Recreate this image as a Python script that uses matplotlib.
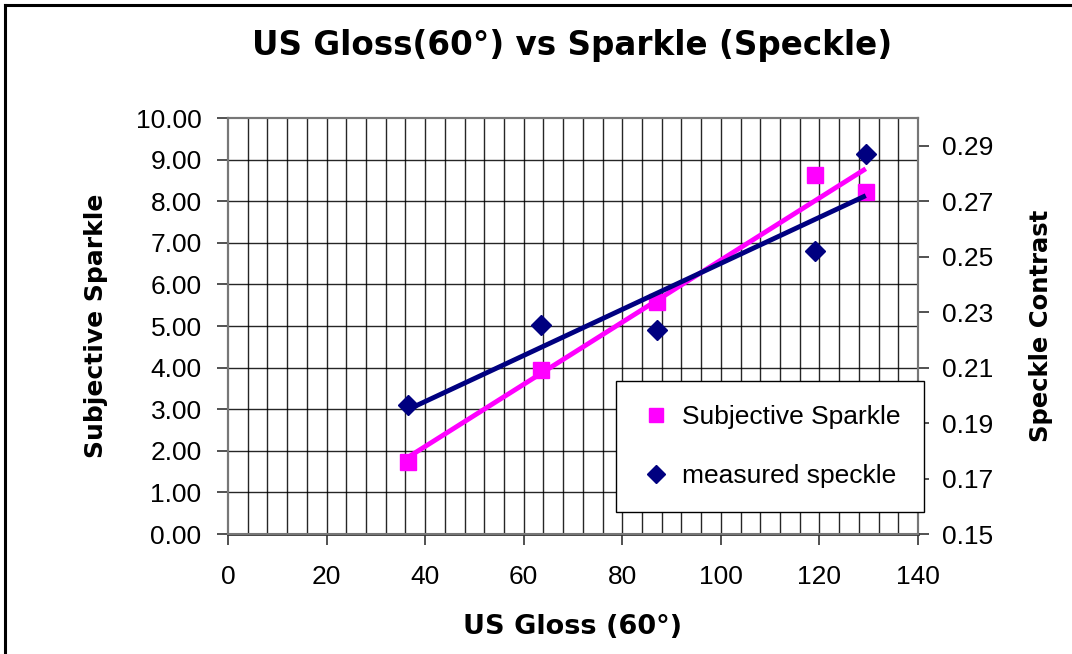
import numpy as np
import matplotlib
matplotlib.use("Agg")
import matplotlib.pyplot as plt
from matplotlib.lines import Line2D

# Data
gloss = [36.5, 63.5, 87.0, 119.0, 129.4]
subjective_sparkle = [1.73, 3.94, 5.58, 8.64, 8.21]
measured_speckle = [0.1965, 0.2253, 0.2235, 0.2521, 0.2869]

left_ticks = [0, 1, 2, 3, 4, 5, 6, 7, 8, 9, 10]
right_ticks = [0.15, 0.17, 0.19, 0.21, 0.23, 0.25, 0.27, 0.29]
x_ticks = [0, 20, 40, 60, 80, 100, 120, 140]

MAG = "#FF00FF"
NAVY = "#000080"
TICK_FONT = "Liberation Sans"
LABEL_FONT = "DejaVu Sans"

fig = plt.figure(figsize=(10.72, 6.54), dpi=100)
fig.patch.set_facecolor("white")

# Figure frame (top and left visible)
fig.add_artist(Line2D([5/1072, 1.0], [1 - 5/654, 1 - 5/654], transform=fig.transFigure,
                      color="black", lw=2.2))
fig.add_artist(Line2D([5/1072, 5/1072], [0.0, 1 - 5/654], transform=fig.transFigure,
                      color="black", lw=2.2))

ax = fig.add_axes([228/1072, 1 - 534/654, 690/1072, 416/654])
ax2 = ax.twinx()

ax.set_xlim(0, 140)
ax.set_ylim(0, 10)
ax2.set_ylim(0.15, 0.30)

# Grid: vertical every 4, horizontal at major
for xv in np.arange(4, 140, 4):
    ax.axvline(xv, color="#000000", lw=1.0, alpha=0.85, zorder=1)
for yv in left_ticks[1:-1]:
    ax.axhline(yv, color="#000000", lw=1.0, alpha=0.85, zorder=1)

ax.set_xticks(x_ticks)
ax.set_xticklabels([str(v) for v in x_ticks], fontsize=19, family=TICK_FONT)
ax.set_yticks(left_ticks)
ax.set_yticklabels([f"{v:.2f}" for v in left_ticks], fontsize=19, family=TICK_FONT)
ax2.set_yticks(right_ticks)
ax2.set_yticklabels([f"{v:.2f}" for v in right_ticks], fontsize=19, family=TICK_FONT)

ax.tick_params(axis="y", direction="out", length=8, width=1.2, color="#333333", pad=11)
ax.tick_params(axis="x", direction="out", length=8, width=1.2, color="#333333", pad=14)
ax2.tick_params(axis="y", direction="out", length=8, width=1.2, color="#333333", pad=9)

for a in (ax, ax2):
    for s in a.spines.values():
        s.set_color("#777777")
        s.set_linewidth(1.5)
ax.spines["bottom"].set_color("#333333")
ax.spines["bottom"].set_linewidth(2)
ax.spines["left"].set_color("#444444")

# Scatter markers
ax.plot(gloss, subjective_sparkle, ls="none", marker="s", ms=11, color=MAG,
        mec=MAG, zorder=4, label="Subjective Sparkle")
ax2.plot(gloss, measured_speckle, ls="none", marker="D", ms=10, color=NAVY,
         mec=NAVY, zorder=4, label="measured speckle")

# Linear trendlines
gx = np.array([min(gloss), max(gloss)])
p1 = np.polyfit(gloss, subjective_sparkle, 1)
p2 = np.polyfit(gloss, measured_speckle, 1)
ax.plot(gx, np.polyval(p1, gx), color=MAG, lw=3.5, zorder=5, solid_capstyle="butt")
ax2.plot(gx, np.polyval(p2, gx), color=NAVY, lw=3.5, zorder=5, solid_capstyle="butt")

# Labels
ax.set_xlabel("US Gloss (60°)", fontsize=19.5, fontweight="bold", family=LABEL_FONT, labelpad=18)
ax.set_ylabel("Subjective Sparkle", fontsize=18, fontweight="bold", family=LABEL_FONT, labelpad=20)
ax2.set_ylabel("Speckle Contrast", fontsize=17.5, fontweight="bold", family=LABEL_FONT, labelpad=26)
fig.text(0.534, 1 - 46/654, "US Gloss(60°) vs Sparkle (Speckle)", ha="center", va="center",
         fontsize=23.5, fontweight="bold", family=LABEL_FONT)

# Legend
handles = [Line2D([], [], ls="none", marker="s", ms=10, color=MAG, mec=MAG),
           Line2D([], [], ls="none", marker="D", ms=9, color=NAVY, mec=NAVY)]
leg = ax2.legend(handles, ["Subjective Sparkle", "measured speckle"],
                 loc="upper left", bbox_to_anchor=((616 - 228) / 690, (534 - 381) / 416),
                 bbox_transform=ax.transAxes,
                 prop={"family": TICK_FONT, "size": 19}, frameon=True, fancybox=False,
                 edgecolor="black", framealpha=1, borderpad=0.9, labelspacing=1.35,
                 handletextpad=0.4, handlelength=1.2, borderaxespad=0)
leg.get_frame().set_linewidth(1.0)
leg.set_zorder(10)

fig.savefig("out.png", dpi=100, facecolor="white")
